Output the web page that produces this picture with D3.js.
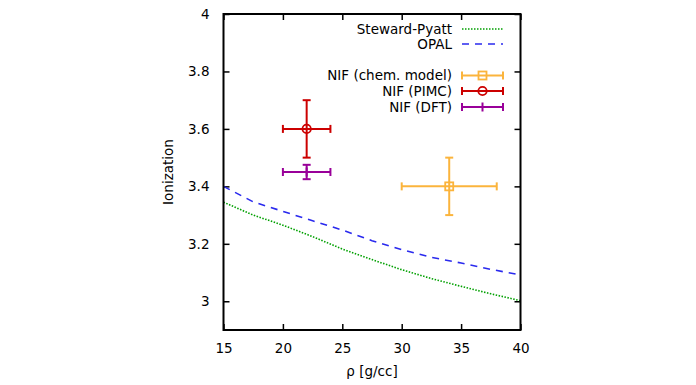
<!DOCTYPE html>
<html><head><meta charset="utf-8">
<script src="https://cdn.jsdelivr.net/npm/d3@7"></script>
<style>body{margin:0;background:#fff}svg{display:block}text{font-family:"DejaVu Sans",sans-serif;font-size:13.5px;fill:#000}</style>
</head><body>
<svg id="c" width="696" height="385"></svg>
<script>
const rho = [15, 17.5, 20, 22.5, 25, 27.5, 30, 32.5, 35, 37.5, 40];
const stewardPyatt = [3.345, 3.300, 3.265, 3.225, 3.182, 3.145, 3.110, 3.079, 3.052, 3.026, 3.002];
const opal = [3.400, 3.346, 3.313, 3.280, 3.248, 3.211, 3.180, 3.153, 3.133, 3.111, 3.092];
const nifNames = ["NIF (chem. model)", "NIF (PIMC)", "NIF (DFT)"];
const nifRho = [34, 22, 22];
const nifRhoErr = [4, 2, 2];
const nifZ = [3.40, 3.60, 3.45];
const nifZErr = [0.10, 0.10, 0.025];
const nifColors = ["#fbb43c", "#cc0000", "#990099"];
const nifMarks = ["square", "circle", "plus"];
const xTicks = [15, 20, 25, 30, 35, 40];
const yTicks = [3, 3.2, 3.4, 3.6, 3.8, 4];

const FS = 13.5;
const svg = d3.select("#c");
const L = 223.5, R = 520.5, T = 14, B = 330;
const x = d3.scaleLinear().domain([15, 40]).range([L, R]);
const y = d3.scaleLinear().domain([2.9, 4]).range([B, T]);

const gx = svg.append("g").attr("transform", `translate(0,${B})`)
  .call(d3.axisBottom(x).tickValues(xTicks).tickSizeInner(-6).tickSizeOuter(0).tickPadding(13).tickFormat(d3.format("d")));
const gxt = svg.append("g").attr("transform", `translate(0,${T})`)
  .call(d3.axisTop(x).tickValues(xTicks).tickSizeInner(-6).tickSizeOuter(0).tickFormat(""));
const gy = svg.append("g").attr("transform", `translate(${L},0)`)
  .call(d3.axisLeft(y).tickValues(yTicks).tickSizeInner(-6).tickSizeOuter(0).tickPadding(14).tickFormat(d => d === 3 || d === 4 ? d3.format("d")(d) : d3.format(".1f")(d)));
const gyr = svg.append("g").attr("transform", `translate(${R},0)`)
  .call(d3.axisRight(y).tickValues(yTicks).tickSizeInner(-6).tickSizeOuter(0).tickFormat(""));
[gx, gxt, gy, gyr].forEach(g => {
  g.select(".domain").remove();
  g.selectAll(".tick line").attr("stroke", "#000").attr("stroke-width", 1.5);
  g.selectAll("text").attr("font-family", "DejaVu Sans, sans-serif").attr("font-size", FS).attr("fill", "#000");
});

const line = d3.line().x((d, i) => x(rho[i])).y(d => y(d));
svg.append("clipPath").attr("id", "pc").append("rect").attr("x", L).attr("y", T).attr("width", R - L).attr("height", B - T);
const pg = svg.append("g").attr("clip-path", "url(#pc)");
pg.append("path").datum(stewardPyatt).attr("d", line).attr("fill", "none")
  .attr("stroke", "#00a000").attr("stroke-width", 1.6).attr("stroke-dasharray", "1.5,1.5");
pg.append("path").datum(opal).attr("d", line).attr("fill", "none")
  .attr("stroke", "#2a2aee").attr("stroke-width", 1.6).attr("stroke-dasharray", "7,6");

function marker(g, type, cx, cy, color) {
  if (type === "square") g.append("rect").attr("x", cx - 4).attr("y", cy - 4).attr("width", 8).attr("height", 8).attr("fill", "none").attr("stroke", color).attr("stroke-width", 1.8);
  else if (type === "circle") g.append("circle").attr("cx", cx).attr("cy", cy).attr("r", 4.2).attr("fill", "none").attr("stroke", color).attr("stroke-width", 1.8);
  else { g.append("line").attr("x1", cx).attr("x2", cx).attr("y1", cy - 4.5).attr("y2", cy + 4.5).attr("stroke", color).attr("stroke-width", 2); }
}

nifNames.forEach((n, i) => {
  const g = svg.append("g");
  const c = nifColors[i];
  const cx = x(nifRho[i]), cy = y(nifZ[i]);
  const x0 = x(nifRho[i] - nifRhoErr[i]), x1 = x(nifRho[i] + nifRhoErr[i]);
  const y0 = y(nifZ[i] - nifZErr[i]), y1 = y(nifZ[i] + nifZErr[i]);
  const ln = (a, b, cc, d) => g.append("line").attr("x1", a).attr("y1", b).attr("x2", cc).attr("y2", d).attr("stroke", c).attr("stroke-width", 2);
  ln(x0, cy, x1, cy); ln(cx, y0, cx, y1);
  ln(x0, cy - 4, x0, cy + 4); ln(x1, cy - 4, x1, cy + 4);
  ln(cx - 4, y0, cx + 4, y0); ln(cx - 4, y1, cx + 4, y1);
  marker(g, nifMarks[i], cx, cy, c);
});

const lx0 = 462, lx1 = 503, ltx = 452;
const legLines = [
  { name: "Steward-Pyatt", y: 29, color: "#00a000", dash: "1.5,1.5" },
  { name: "OPAL", y: 44, color: "#2a2aee", dash: "7,6" }
];
legLines.forEach(d => {
  svg.append("text").attr("x", ltx).attr("y", d.y).attr("dy", "0.35em").attr("text-anchor", "end").text(d.name);
  svg.append("line").attr("x1", lx0).attr("x2", lx1).attr("y1", d.y).attr("y2", d.y)
    .attr("stroke", d.color).attr("stroke-width", 1.6).attr("stroke-dasharray", d.dash);
});
const legY = [75.5, 91, 107];
nifNames.forEach((n, i) => {
  const yy = legY[i], c = nifColors[i];
  svg.append("text").attr("x", ltx).attr("y", yy).attr("dy", "0.35em").attr("text-anchor", "end").text(n);
  const g = svg.append("g");
  g.append("line").attr("x1", lx0).attr("x2", lx1).attr("y1", yy).attr("y2", yy).attr("stroke", c).attr("stroke-width", 2);
  g.append("line").attr("x1", lx0).attr("x2", lx0).attr("y1", yy - 4).attr("y2", yy + 4).attr("stroke", c).attr("stroke-width", 2);
  g.append("line").attr("x1", lx1).attr("x2", lx1).attr("y1", yy - 4).attr("y2", yy + 4).attr("stroke", c).attr("stroke-width", 2);
  marker(g, nifMarks[i], (lx0 + lx1) / 2, yy, c);
});

svg.append("rect").attr("x", L).attr("y", T).attr("width", R - L).attr("height", B - T)
  .attr("fill", "none").attr("stroke", "#000").attr("stroke-width", 2);

svg.append("text").attr("x", (L + R) / 2).attr("y", 371).attr("dy", "0.35em").attr("text-anchor", "middle").text("ρ [g/cc]");
svg.append("text").attr("transform", `translate(168,${(T + B) / 2}) rotate(-90)`).attr("dy", "0.35em").attr("text-anchor", "middle").text("Ionization");
</script>
</body></html>
